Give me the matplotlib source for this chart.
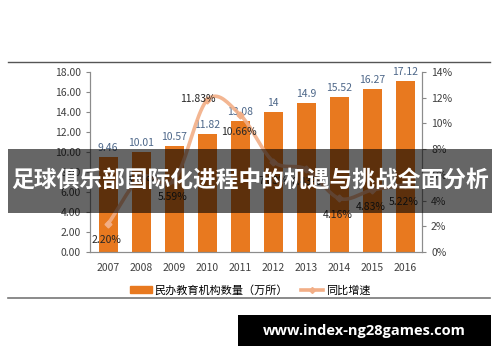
import numpy as np
import matplotlib
matplotlib.use('Agg')
import matplotlib.pyplot as plt
from matplotlib.patches import Rectangle
from matplotlib.lines import Line2D

plt.rcParams['font.family'] = ['Noto Sans CJK SC', 'DejaVu Sans']

years = ['2007', '2008', '2009', '2010', '2011', '2012', '2013', '2014', '2015', '2016']
counts = [9.46, 10.01, 10.57, 11.82, 13.08, 14, 14.9, 15.52, 16.27, 17.12]
growth = [2.20, 5.81, 5.59, 11.83, 10.66, 7.03, 6.43, 4.16, 4.83, 5.22]
count_labels = ['9.46', '10.01', '10.57', '11.82', '13.08', '14', '14.9', '15.52', '16.27', '17.12']
growth_labels = ['2.20%', '5.81%', '5.59%', '11.83%', '10.66%', '7.03%', '6.43%', '4.16%', '4.83%', '5.22%']
left_ticks = [0, 2, 4, 6, 8, 10, 12, 14, 16, 18]
right_ticks = [0, 2, 4, 6, 8, 10, 12, 14]

title = '足球俱乐部国际化进程中的机遇与挑战全面分析'
site = 'www.index-ng28games.com'

bar_color = '#E8791F'
line_color = '#F2AE86'
tick_color = '#404040'


def smooth(xs, ys, n=20):
    # catmull-rom curve through the points, like the excel smoothed line
    xs = np.asarray(xs, float)
    ys = np.asarray(ys, float)
    px = np.concatenate([[2 * xs[0] - xs[1]], xs, [2 * xs[-1] - xs[-2]]])
    py = np.concatenate([[2 * ys[0] - ys[1]], ys, [2 * ys[-1] - ys[-2]]])
    outx, outy = [], []
    t = np.linspace(0, 1, n, endpoint=False)
    for i in range(1, len(px) - 2):
        for p, out in ((px, outx), (py, outy)):
            p0, p1, p2, p3 = p[i - 1], p[i], p[i + 1], p[i + 2]
            out.extend(0.5 * (2 * p1 + (-p0 + p2) * t + (2 * p0 - 5 * p1 + 4 * p2 - p3) * t ** 2
                              + (-p0 + 3 * p1 - 3 * p2 + p3) * t ** 3))
    outx.append(xs[-1])
    outy.append(ys[-1])
    return np.array(outx), np.array(outy)


fig = plt.figure(figsize=(5, 3.62), dpi=100)
ax = fig.add_axes([0.18, 0.304, 0.664, 0.497])
ax2 = ax.twinx()

x = np.arange(len(years))
bars = ax.bar(x, counts, width=0.58, color=bar_color, zorder=2)
for xi, v, lab in zip(x, counts, count_labels):
    ax.annotate(lab, (xi, v), xytext=(0, 3), textcoords='offset points',
                ha='center', va='bottom', fontsize=7.5, color='#4D6789')

ax.set_xlim(-0.55, 9.5)
ax.set_ylim(0, 18)
ax.set_yticks(left_ticks)
ax.set_yticklabels(['%.2f' % t for t in left_ticks])
ax.set_xticks(x)
ax.set_xticklabels(years)
ax.tick_params(axis='x', length=0, pad=8, labelsize=7.5, colors=tick_color)
ax.tick_params(axis='y', length=3, width=0.8, labelsize=7.5, colors=tick_color, color='#888888')

ax2.set_ylim(0, 14)
ax2.set_yticks(right_ticks)
ax2.set_yticklabels(['%d%%' % t for t in right_ticks])
ax2.tick_params(axis='y', length=3, width=0.8, labelsize=7.5, colors=tick_color, color='#888888')

for a in (ax, ax2):
    a.spines['top'].set_visible(False)
    for s in ('left', 'right', 'bottom'):
        a.spines[s].set_color('#8C8C8C')
        a.spines[s].set_linewidth(0.8)

sx, sy = smooth(x, growth)
ax2.plot(sx, sy, color=line_color, lw=2.6, alpha=0.9, zorder=3, solid_capstyle='round')
ax2.plot(x, growth, ls='none', marker='D', ms=3.5, color=line_color, zorder=3)

# labels of 2008, 2012, 2013 sit behind the banner text in the reference
offsets = {1: (0, -3), 3: (-7, 1), 5: (0, -14), 6: (0, -9)}
for i, (g, lab) in enumerate(zip(growth, growth_labels)):
    dx, dy = offsets.get(i, (-1, -12))
    ax2.annotate(lab, (x[i], g), xytext=(dx, dy), textcoords='offset points',
                 ha='center', va='center', fontsize=7.5, color='#262626')

handles = [Rectangle((0, 0), 1, 1, color=bar_color),
           Line2D([], [], color=line_color, lw=2.6, marker='D', ms=3)]
fig.legend(handles, ['民办教育机构数量（万所）', '同比增速'], loc='center',
           bbox_to_anchor=(0.5, 0.199), ncol=2, frameon=False, fontsize=8,
           handlelength=2.0, handleheight=0.6, columnspacing=1.2, handletextpad=0.2)

# frame lines top and bottom
fig.add_artist(Line2D([8 / 500, 490 / 500], [1 - 62 / 362] * 2, color='#555555', lw=1.0))
fig.add_artist(Line2D([8 / 500, 490 / 500], [1 - 298 / 362] * 2, color='#777777', lw=1.2))

# title banner over the chart
fig.add_artist(Rectangle((8 / 500, 1 - 213 / 362), 484 / 500, 64 / 362, transform=fig.transFigure,
                         facecolor='black', alpha=0.6, edgecolor='none', zorder=10))
fig.text(0.5, 1 - 181 / 362, title, ha='center', va='center', fontsize=16.4,
         fontweight='bold', color='white', zorder=11)

# site box
fig.add_artist(Rectangle((238 / 500, 1 - 346 / 362), 253 / 500, 31 / 362, transform=fig.transFigure,
                         facecolor='black', edgecolor='none', zorder=10))
fig.text(364.5 / 500, 1 - 330.5 / 362, site, ha='center', va='center', fontsize=10.5,
         fontweight='bold', color='white', family=['Open Sans', 'DejaVu Sans'], zorder=11)

fig.savefig('out.png', dpi=100)
